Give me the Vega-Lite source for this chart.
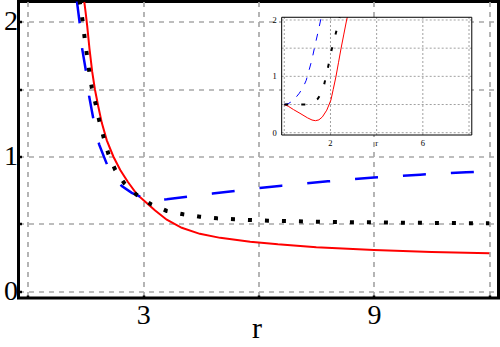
{
  "$schema": "https://vega.github.io/schema/vega-lite/v6.json",
  "width": 480,
  "height": 296.5,
  "autosize": "none",
  "padding": {"left": 18.5, "top": 1.5, "right": 1.5, "bottom": 49},
  "background": "white",
  "config": {
    "view": {"stroke": "black", "strokeWidth": 3},
    "font": "Liberation Serif"
  },
  "datasets": {
    "red": [
      {"x": 1.465, "y": 2.15}, {"x": 1.5, "y": 2.07}, {"x": 1.54, "y": 1.97}, {"x": 1.6, "y": 1.8},
      {"x": 1.67, "y": 1.63}, {"x": 1.74, "y": 1.5}, {"x": 1.83, "y": 1.37}, {"x": 1.92, "y": 1.25},
      {"x": 2.05, "y": 1.12}, {"x": 2.22, "y": 1.0}, {"x": 2.4, "y": 0.9}, {"x": 2.6, "y": 0.81},
      {"x": 2.83, "y": 0.72}, {"x": 3.0, "y": 0.677}, {"x": 3.3, "y": 0.6}, {"x": 3.61, "y": 0.53},
      {"x": 4.0, "y": 0.47}, {"x": 4.47, "y": 0.425}, {"x": 5.0, "y": 0.395}, {"x": 5.78, "y": 0.367},
      {"x": 6.5, "y": 0.347}, {"x": 7.5, "y": 0.326}, {"x": 9.0, "y": 0.305}, {"x": 10.5, "y": 0.29},
      {"x": 12.0, "y": 0.28}
    ],
    "blue": [
      {"x": 1.27, "y": 2.16}, {"x": 1.35, "y": 1.98}, {"x": 1.41, "y": 1.8}, {"x": 1.51, "y": 1.63},
      {"x": 1.59, "y": 1.45}, {"x": 1.7, "y": 1.28}, {"x": 1.85, "y": 1.09}, {"x": 2.07, "y": 0.93},
      {"x": 2.25, "y": 0.84}, {"x": 2.44, "y": 0.78}, {"x": 2.7, "y": 0.73}, {"x": 2.96, "y": 0.697},
      {"x": 3.05, "y": 0.678}, {"x": 3.3, "y": 0.675}, {"x": 3.61, "y": 0.682}, {"x": 4.2, "y": 0.703},
      {"x": 4.8, "y": 0.724}, {"x": 5.4, "y": 0.745}, {"x": 6.0, "y": 0.765}, {"x": 6.6, "y": 0.783},
      {"x": 7.2, "y": 0.8}, {"x": 7.8, "y": 0.815}, {"x": 8.4, "y": 0.83}, {"x": 9.0, "y": 0.843},
      {"x": 9.6, "y": 0.855}, {"x": 10.2, "y": 0.865}, {"x": 10.8, "y": 0.874}, {"x": 11.4, "y": 0.882},
      {"x": 12.0, "y": 0.89}
    ],
    "black": [
      {"x": 1.34, "y": 2.16}, {"x": 1.42, "y": 2.01}, {"x": 1.47, "y": 1.89}, {"x": 1.53, "y": 1.76},
      {"x": 1.59, "y": 1.64}, {"x": 1.66, "y": 1.51}, {"x": 1.76, "y": 1.39}, {"x": 1.85, "y": 1.27},
      {"x": 1.97, "y": 1.14}, {"x": 2.09, "y": 1.02}, {"x": 2.27, "y": 0.9}, {"x": 2.51, "y": 0.8},
      {"x": 2.83, "y": 0.714}, {"x": 3.2, "y": 0.645}, {"x": 3.61, "y": 0.595}, {"x": 4.04, "y": 0.57},
      {"x": 4.47, "y": 0.552}, {"x": 4.92, "y": 0.54}, {"x": 5.37, "y": 0.533}, {"x": 5.78, "y": 0.528},
      {"x": 6.25, "y": 0.523}, {"x": 7.0, "y": 0.518}, {"x": 8.0, "y": 0.513}, {"x": 9.0, "y": 0.51},
      {"x": 10.0, "y": 0.507}, {"x": 11.0, "y": 0.505}, {"x": 12.0, "y": 0.503}
    ],
    "inRed": [
      {"x": 0, "y": 0.5}, {"x": 0.17, "y": 0.47}, {"x": 0.4, "y": 0.41}, {"x": 0.68, "y": 0.344},
      {"x": 1.0, "y": 0.265}, {"x": 1.2, "y": 0.225}, {"x": 1.35, "y": 0.213}, {"x": 1.5, "y": 0.228},
      {"x": 1.65, "y": 0.28}, {"x": 1.84, "y": 0.4}, {"x": 2.02, "y": 0.58}, {"x": 2.12, "y": 0.77},
      {"x": 2.24, "y": 1.0}, {"x": 2.35, "y": 1.25}, {"x": 2.46, "y": 1.5}, {"x": 2.58, "y": 1.75},
      {"x": 2.7, "y": 2.0}, {"x": 2.73, "y": 2.048}
    ],
    "inBlue": [
      {"x": 0, "y": 0.5}, {"x": 0.17, "y": 0.515}, {"x": 0.39, "y": 0.57}, {"x": 0.65, "y": 0.7},
      {"x": 0.82, "y": 0.81}, {"x": 0.95, "y": 0.93}, {"x": 1.08, "y": 1.12}, {"x": 1.2, "y": 1.3},
      {"x": 1.33, "y": 1.55}, {"x": 1.47, "y": 1.8}, {"x": 1.6, "y": 2.048}
    ],
    "inBlack": [
      {"x": 0, "y": 0.5}, {"x": 0.5, "y": 0.5}, {"x": 0.95, "y": 0.5}, {"x": 1.2, "y": 0.53},
      {"x": 1.45, "y": 0.6}, {"x": 1.6, "y": 0.7}, {"x": 1.73, "y": 0.86}, {"x": 1.9, "y": 1.17},
      {"x": 2.05, "y": 1.47}, {"x": 2.24, "y": 1.78}, {"x": 2.4, "y": 2.048}
    ],
    "inGridX": [{"v": 0}, {"v": 2}, {"v": 4}, {"v": 6}, {"v": 8}],
    "inGridY": [{"v": 0}, {"v": 0.5}, {"v": 1}, {"v": 1.5}, {"v": 2}],
    "inLabX": [{"v": 2, "t": "2"}, {"v": 4, "t": "r"}, {"v": 6, "t": "6"}],
    "inLabY": [{"v": 0, "t": "0"}, {"v": 1, "t": "1"}, {"v": 2, "t": "2"}]
  },
  "resolve": {
    "scale": {"x": "independent", "y": "independent"},
    "axis": {"x": "independent", "y": "independent"}
  },
  "layer": [
    {
      "layer": [
        {
          "data": {"name": "red"},
          "mark": {"type": "line", "color": "#ff0000", "strokeWidth": 2, "clip": true},
          "encoding": {
            "x": {
              "field": "x", "type": "quantitative",
              "scale": {"domain": [-0.247, 12.24], "nice": false, "zero": false},
              "axis": {
                "orient": "bottom", "values": [0, 3, 6, 9, 12],
                "labelExpr": "datum.value == 3 || datum.value == 9 ? datum.label : ''",
                "grid": true, "gridColor": "#a8a8a8", "gridDash": [5, 5], "gridWidth": 1.7,
                "domain": false, "ticks": true, "tickSize": -3, "tickColor": "black", "tickWidth": 2.5,
                "labelFont": "Liberation Serif", "labelFontSize": 28, "labelColor": "black", "labelPadding": 6,
                "labelFlush": false, "labelOverlap": false,
                "title": "r", "titleFont": "Liberation Serif", "titleFontSize": 30, "titleFontWeight": "normal",
                "titleColor": "black", "titleBaseline": "alphabetic", "titleY": 39, "titleX": 238
              }
            },
            "y": {
              "field": "y", "type": "quantitative",
              "scale": {"domain": [-0.052, 2.152], "nice": false, "zero": false},
              "axis": {
                "orient": "left", "values": [0, 0.5, 1, 1.5, 2],
                "labelExpr": "datum.value % 1 == 0 ? format(datum.value, 'd') : ''",
                "grid": true, "gridColor": "#a8a8a8", "gridDash": [5, 5], "gridWidth": 1.7,
                "domain": false, "ticks": true, "tickSize": -3, "tickColor": "black", "tickWidth": 2.5,
                "labelFont": "Liberation Serif", "labelFontSize": 28, "labelColor": "black", "labelPadding": 4,
                "labelFlush": false, "labelOverlap": false, "title": null
              }
            }
          }
        },
        {
          "data": {"name": "blue"},
          "mark": {"type": "line", "color": "#0000ff", "strokeWidth": 2.5, "strokeDash": [23, 25], "clip": true},
          "encoding": {
            "x": {"field": "x", "type": "quantitative", "scale": {"domain": [-0.247, 12.24], "nice": false, "zero": false}},
            "y": {"field": "y", "type": "quantitative", "scale": {"domain": [-0.052, 2.152], "nice": false, "zero": false}}
          }
        },
        {
          "data": {"name": "black"},
          "mark": {"type": "line", "color": "#000000", "strokeWidth": 4, "strokeDash": [4, 13], "clip": true},
          "encoding": {
            "x": {"field": "x", "type": "quantitative", "scale": {"domain": [-0.247, 12.24], "nice": false, "zero": false}},
            "y": {"field": "y", "type": "quantitative", "scale": {"domain": [-0.052, 2.152], "nice": false, "zero": false}}
          }
        }
      ]
    },
    {
      "layer": [
        {
          "data": {"values": [{}]},
          "mark": {"type": "rect", "fill": "white", "stroke": null},
          "encoding": {
            "x": {"datum": -0.113, "type": "quantitative", "scale": {"domain": [-11.511, 9.277], "nice": false, "zero": false}, "axis": null},
            "x2": {"datum": 8.12},
            "y": {"datum": -0.041, "type": "quantitative", "scale": {"domain": [-2.933, 2.328], "nice": false, "zero": false}, "axis": null},
            "y2": {"datum": 2.048}
          }
        },
        {
          "data": {"name": "inGridX"},
          "mark": {"type": "rule", "color": "#a0a0a0", "strokeWidth": 1, "strokeDash": [2, 2]},
          "encoding": {
            "x": {"field": "v", "type": "quantitative", "scale": {"domain": [-11.511, 9.277], "nice": false, "zero": false}, "axis": null},
            "y": {"datum": -0.041, "type": "quantitative", "scale": {"domain": [-2.933, 2.328], "nice": false, "zero": false}, "axis": null},
            "y2": {"datum": 2.048}
          }
        },
        {
          "data": {"name": "inGridY"},
          "mark": {"type": "rule", "color": "#a0a0a0", "strokeWidth": 1, "strokeDash": [2, 2]},
          "encoding": {
            "y": {"field": "v", "type": "quantitative", "scale": {"domain": [-2.933, 2.328], "nice": false, "zero": false}, "axis": null},
            "x": {"datum": -0.113, "type": "quantitative", "scale": {"domain": [-11.511, 9.277], "nice": false, "zero": false}, "axis": null},
            "x2": {"datum": 8.12}
          }
        },
        {
          "data": {"name": "inRed"},
          "mark": {"type": "line", "color": "#ff0000", "strokeWidth": 1},
          "encoding": {
            "x": {"field": "x", "type": "quantitative", "scale": {"domain": [-11.511, 9.277], "nice": false, "zero": false}, "axis": null},
            "y": {"field": "y", "type": "quantitative", "scale": {"domain": [-2.933, 2.328], "nice": false, "zero": false}, "axis": null}
          }
        },
        {
          "data": {"name": "inBlue"},
          "mark": {"type": "line", "color": "#0000ff", "strokeWidth": 1, "strokeDash": [7, 8]},
          "encoding": {
            "x": {"field": "x", "type": "quantitative", "scale": {"domain": [-11.511, 9.277], "nice": false, "zero": false}, "axis": null},
            "y": {"field": "y", "type": "quantitative", "scale": {"domain": [-2.933, 2.328], "nice": false, "zero": false}, "axis": null}
          }
        },
        {
          "data": {"name": "inBlack"},
          "mark": {"type": "line", "color": "#000000", "strokeWidth": 2, "strokeDash": [4, 13]},
          "encoding": {
            "x": {"field": "x", "type": "quantitative", "scale": {"domain": [-11.511, 9.277], "nice": false, "zero": false}, "axis": null},
            "y": {"field": "y", "type": "quantitative", "scale": {"domain": [-2.933, 2.328], "nice": false, "zero": false}, "axis": null}
          }
        },
        {
          "data": {"values": [{}]},
          "mark": {"type": "rect", "fill": null, "fillOpacity": 0, "stroke": "black", "strokeWidth": 1},
          "encoding": {
            "x": {"datum": -0.113, "type": "quantitative", "scale": {"domain": [-11.511, 9.277], "nice": false, "zero": false}, "axis": null},
            "x2": {"datum": 8.12},
            "y": {"datum": -0.041, "type": "quantitative", "scale": {"domain": [-2.933, 2.328], "nice": false, "zero": false}, "axis": null},
            "y2": {"datum": 2.048}
          }
        },
        {
          "data": {"name": "inLabX"},
          "mark": {"type": "text", "font": "Liberation Serif", "fontSize": 8.5, "color": "black", "baseline": "top", "align": "center", "dy": 4},
          "encoding": {
            "x": {"field": "v", "type": "quantitative", "scale": {"domain": [-11.511, 9.277], "nice": false, "zero": false}, "axis": null},
            "y": {"datum": -0.041, "type": "quantitative", "scale": {"domain": [-2.933, 2.328], "nice": false, "zero": false}, "axis": null},
            "text": {"field": "t"}
          }
        },
        {
          "data": {"name": "inLabY"},
          "mark": {"type": "text", "font": "Liberation Serif", "fontSize": 8.5, "color": "black", "baseline": "middle", "align": "right", "dx": -5},
          "encoding": {
            "y": {"field": "v", "type": "quantitative", "scale": {"domain": [-2.933, 2.328], "nice": false, "zero": false}, "axis": null},
            "x": {"datum": -0.113, "type": "quantitative", "scale": {"domain": [-11.511, 9.277], "nice": false, "zero": false}, "axis": null},
            "text": {"field": "t"}
          }
        }
      ]
    }
  ]
}
